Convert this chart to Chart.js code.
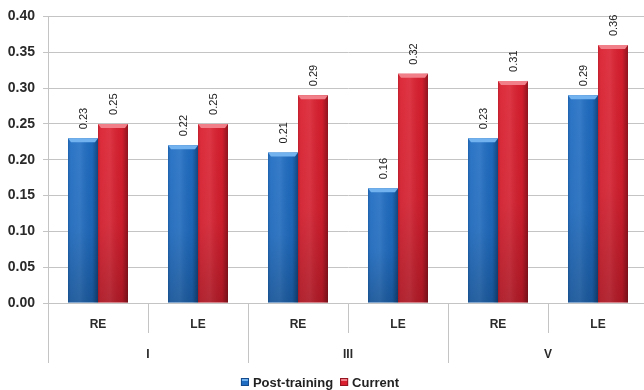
<!DOCTYPE html>
<html>
<head>
<meta charset="utf-8">
<script src="https://cdn.jsdelivr.net/npm/chart.js@4.4.1/dist/chart.umd.min.js"></script>
<style>
  html, body { margin: 0; padding: 0; overflow: hidden; background: #fff; }
  #wrap { width: 660px; height: 390px; }
</style>
</head>
<body>
<div id="wrap"><canvas id="c" width="660" height="390"></canvas></div>
<script>
// Eye per measurement and the group it belongs to
const eyes = ['RE', 'LE', 'RE', 'LE', 'RE', 'LE'];
const groups = ['I', 'III', 'V'];
const postTraining = [0.23, 0.22, 0.21, 0.16, 0.23, 0.29];
const current = [0.25, 0.25, 0.29, 0.32, 0.31, 0.36];
const seriesNames = ['Post-training', 'Current'];

const FONT = '"Liberation Sans", Arial, sans-serif';
const palette = [
  { base: '#1f6dc3', top: '#72b2ee', edge: '#154a8c' },
  { base: '#db1f2f', top: '#f07f89', edge: '#941420' }
];

// Shading, bevelled top edge and rotated value labels for each bar
const barDecor = {
  id: 'barDecor',
  afterDatasetsDraw(chart) {
    const c = chart.ctx;
    chart.data.datasets.forEach((ds, di) => {
      const meta = chart.getDatasetMeta(di);
      meta.data.forEach((bar, i) => {
        const l = bar.x - bar.width / 2, r = bar.x + bar.width / 2;
        const t = bar.y, b = bar.base;
        c.save();
        // side shading
        const gh = c.createLinearGradient(l, 0, r, 0);
        gh.addColorStop(0, 'rgba(0,0,0,0.12)');
        gh.addColorStop(0.1, 'rgba(255,255,255,0.06)');
        gh.addColorStop(0.4, 'rgba(255,255,255,0.10)');
        gh.addColorStop(0.8, 'rgba(0,0,0,0.04)');
        gh.addColorStop(1, 'rgba(0,0,0,0.35)');
        c.fillStyle = gh;
        c.fillRect(l, t, r - l, b - t);
        // darker toward the floor
        const gv = c.createLinearGradient(0, t, 0, b);
        gv.addColorStop(0, 'rgba(0,0,0,0)');
        gv.addColorStop(0.55, 'rgba(0,0,0,0.04)');
        gv.addColorStop(1, 'rgba(0,0,0,0.2)');
        c.fillStyle = gv;
        c.fillRect(l, t, r - l, b - t);
        // bevel
        c.beginPath();
        c.moveTo(l, t);
        c.lineTo(r, t);
        c.lineTo(r - 3, t + 4);
        c.lineTo(l + 3, t + 4);
        c.closePath();
        c.fillStyle = palette[di].top;
        c.fill();
        c.restore();

        c.save();
        c.translate(bar.x + 1, t - 9);
        c.rotate(-Math.PI / 2);
        c.font = '11px ' + FONT;
        c.fillStyle = '#222';
        c.textAlign = 'left';
        c.textBaseline = 'middle';
        c.fillText(ds.data[i].toFixed(2), 0, 0);
        c.restore();
      });
    });
  }
};

// Legend centred under the axis labels
const legendRow = {
  id: 'legendRow',
  afterDraw(chart) {
    const c = chart.ctx;
    const box = 8, gapText = 4, gapItem = 7;
    c.save();
    c.font = 'bold 13px ' + FONT;
    const widths = seriesNames.map(n => c.measureText(n).width);
    const total = widths.reduce((s, w) => s + box + gapText + w, 0) + gapItem * (seriesNames.length - 1);
    let x = 320 - total / 2;
    const y = 382;
    seriesNames.forEach((n, i) => {
      c.fillStyle = palette[i].base;
      c.fillRect(x, y - box / 2, box, box);
      c.strokeStyle = palette[i].edge;
      c.lineWidth = 1;
      c.strokeRect(x + 0.5, y - box / 2 + 0.5, box - 1, box - 1);
      c.fillStyle = palette[i].top;
      c.fillRect(x + 1, y - box / 2 + 1, box - 2, 2);
      x += box + gapText;
      c.fillStyle = '#222';
      c.textAlign = 'left';
      c.textBaseline = 'middle';
      c.fillText(n, x, y + 1);
      x += widths[i] + gapItem;
    });
    c.restore();
  }
};

new Chart(document.getElementById('c'), {
  type: 'bar',
  data: {
    labels: eyes,
    datasets: [
      { label: seriesNames[0], data: postTraining, backgroundColor: palette[0].base,
        categoryPercentage: 0.6, barPercentage: 1.0 },
      { label: seriesNames[1], data: current, backgroundColor: palette[1].base,
        categoryPercentage: 0.6, barPercentage: 1.0 }
    ]
  },
  options: {
    responsive: false,
    animation: false,
    layout: { padding: { left: 0, right: 12, top: 14, bottom: 27 } },
    plugins: {
      tooltip: { enabled: false },
      legend: { display: false }
    },
    scales: {
      y: {
        min: 0, max: 0.4,
        ticks: {
          stepSize: 0.05, padding: 8, color: '#2a2a2a',
          font: { family: FONT, size: 14, weight: 'bold' },
          callback: v => v.toFixed(2)
        },
        grid: { color: '#c4c4c4', tickLength: 5, lineWidth: 1 },
        border: { color: '#c4c4c4' },
        afterFit(s) { s.width = 48; }
      },
      x: {
        position: 'bottom',
        grid: { offset: true, drawOnChartArea: false, tickLength: 30, color: '#c4c4c4' },
        border: { color: '#c4c4c4' },
        ticks: {
          padding: -16, color: '#2a2a2a',
          font: { family: FONT, size: 12, weight: 'bold' }
        },
        afterFit(s) { s.height = 30; }
      },
      x2: {
        type: 'category',
        position: 'bottom',
        labels: groups,
        grid: { offset: true, drawOnChartArea: false, tickLength: 30, color: '#c4c4c4' },
        border: { display: false },
        ticks: {
          padding: -16, color: '#2a2a2a',
          font: { family: FONT, size: 12, weight: 'bold' }
        },
        afterFit(s) { s.height = 30; }
      }
    }
  },
  plugins: [barDecor, legendRow]
});
</script>
</body>
</html>
